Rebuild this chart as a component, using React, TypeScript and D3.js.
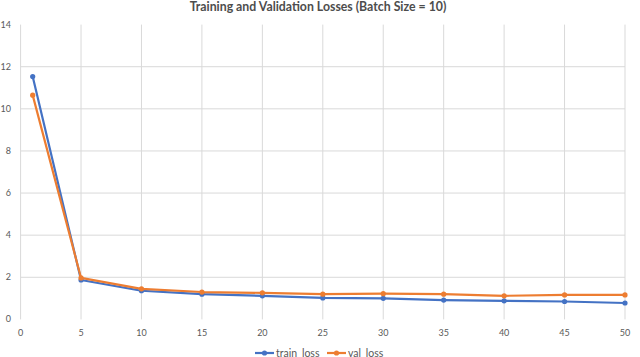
import { useEffect, useRef } from 'react';
import * as d3 from 'd3';

// chart data
const epochs = [1, 5, 10, 15, 20, 25, 30, 35, 40, 45, 50];
const train_loss = [11.53, 1.87, 1.36, 1.2, 1.12, 1.02, 1.0, 0.92, 0.88, 0.85, 0.78];
const val_loss = [10.65, 1.97, 1.45, 1.3, 1.26, 1.2, 1.22, 1.2, 1.12, 1.16, 1.16];
const x_ticks = [0, 5, 10, 15, 20, 25, 30, 35, 40, 45, 50];
const y_ticks = [0, 2, 4, 6, 8, 10, 12, 14];
const series_names = ['train_loss', 'val_loss'];
const chart_title = 'Training and Validation Losses (Batch Size = 10)';

const width = 640;
const height = 357;
const colors = ['#4472C4', '#ED7D31'];
const label_color = '#595959';
const grid_color = '#d9d9d9';
const font = 'Lato, "Open Sans", sans-serif';

export default function App() {
    const ref = useRef<SVGSVGElement>(null);

    useEffect(() => {
        const svg = d3.select(ref.current);
        svg.selectAll('*').remove();

        // scales
        const x_scale = d3.scaleLinear().domain([0, 50]).range([20.6, 625]);
        const y_scale = d3.scaleLinear().domain([0, 14]).range([319.4, 24.6]);

        // title
        svg.append('text')
            .attr('x', 318)
            .attr('y', 11)
            .attr('text-anchor', 'middle')
            .attr('font-family', font)
            .attr('font-weight', 'bold')
            .attr('font-size', 12.3)
            .attr('fill', '#4d4d4d')
            .text(chart_title);

        // grid
        svg.append('g').selectAll('line.h')
            .data(y_ticks.filter(t => t > 0 && t < 14)).enter()
            .append('line')
            .attr('x1', x_scale(0)).attr('x2', x_scale(50))
            .attr('y1', d => y_scale(d)).attr('y2', d => y_scale(d))
            .attr('stroke', grid_color).attr('stroke-width', 1);

        svg.append('g').selectAll('line.v')
            .data(x_ticks).enter()
            .append('line')
            .attr('x1', d => x_scale(d)).attr('x2', d => x_scale(d))
            .attr('y1', y_scale(14)).attr('y2', y_scale(0))
            .attr('stroke', grid_color).attr('stroke-width', 1);

        // tick labels
        svg.append('g').selectAll('text')
            .data(y_ticks).enter()
            .append('text')
            .attr('x', 11)
            .attr('y', d => y_scale(d) + 3)
            .attr('text-anchor', 'end')
            .attr('font-family', font)
            .attr('font-size', 9)
            .attr('fill', label_color)
            .text(d => d);

        svg.append('g').selectAll('text')
            .data(x_ticks).enter()
            .append('text')
            .attr('x', d => x_scale(d))
            .attr('y', 336)
            .attr('text-anchor', 'middle')
            .attr('font-family', font)
            .attr('font-size', 9)
            .attr('fill', label_color)
            .text(d => d);

        // lines + markers
        const line = d3.line<number>()
            .x((d, i) => x_scale(epochs[i]))
            .y(d => y_scale(d));

        [train_loss, val_loss].forEach((values, s) => {
            svg.append('path')
                .datum(values)
                .attr('d', line)
                .attr('fill', 'none')
                .attr('stroke', colors[s])
                .attr('stroke-width', 2.2)
                .attr('stroke-linejoin', 'round');

            svg.append('g').selectAll('circle')
                .data(values).enter()
                .append('circle')
                .attr('cx', (d, i) => x_scale(epochs[i]))
                .attr('cy', d => y_scale(d))
                .attr('r', 2.6)
                .attr('fill', colors[s]);
        });

        // legend
        const legend_x = [255, 327];
        series_names.forEach((name, s) => {
            const g = svg.append('g').attr('transform', 'translate(' + legend_x[s] + ',353)');
            g.append('line')
                .attr('x1', 0).attr('x2', 19)
                .attr('y1', 0).attr('y2', 0)
                .attr('stroke', colors[s]).attr('stroke-width', 2.2);
            g.append('circle')
                .attr('cx', 9.5).attr('cy', 0).attr('r', 2.6)
                .attr('fill', colors[s]);
            g.append('text')
                .attr('x', 21)
                .attr('y', 3.5)
                .attr('font-family', font)
                .attr('font-size', 10.5)
                .attr('fill', label_color)
                .text(name);
        });
    }, []);

    return (
        <svg ref={ref} width={width} height={height}
            style={{ position: 'absolute', left: 0, top: 0, background: '#fff' }} />
    );
}
